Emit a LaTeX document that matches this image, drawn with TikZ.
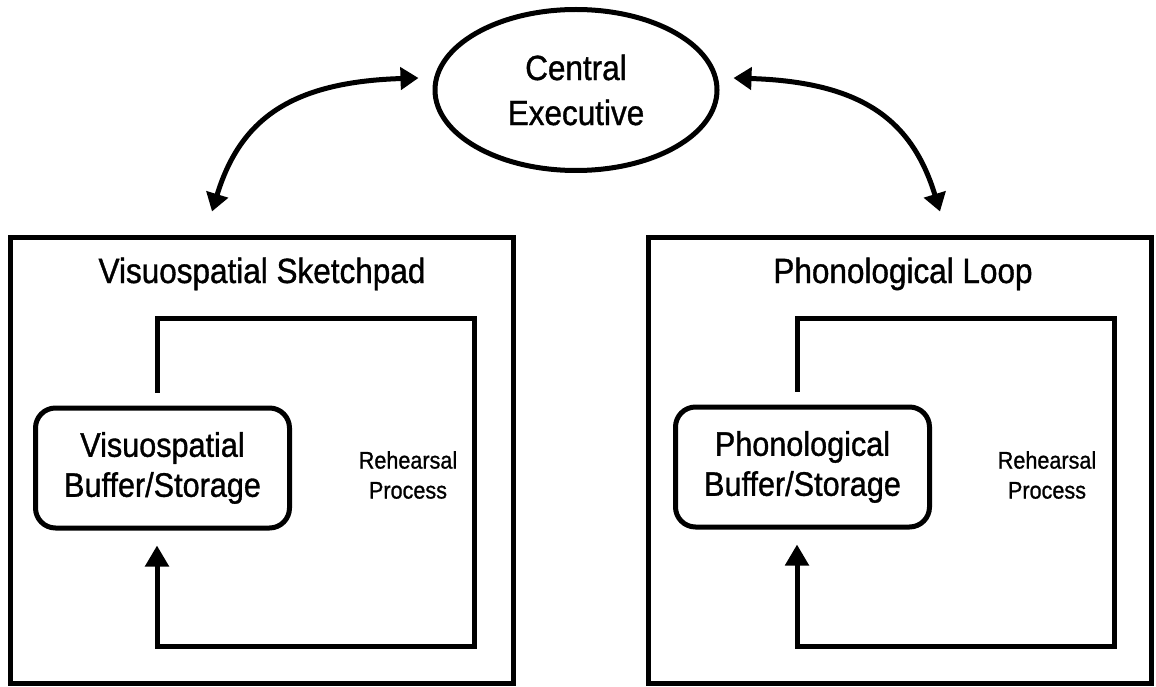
\documentclass[tikz,border=0pt]{standalone}
\usepackage{fontspec}
\setmainfont[FakeStretch=0.9,FakeBold=1]{Liberation Sans}
\usetikzlibrary{arrows.meta,positioning,shapes.geometric,calc}

\begin{document}
\begin{tikzpicture}[x=1pt,y=-1pt,
    thickline/.style={line width=5pt,line join=miter},
    module/.style={draw,thickline,minimum width=503pt,minimum height=446pt,inner sep=0pt},
    buffer/.style={draw,thickline,rounded corners=20pt,minimum width=254pt,minimum height=120pt,
        inner sep=0pt,align=center,font=\fontsize{34}{40}\selectfont},
    title/.style={anchor=base,font=\fontsize{35}{42}\selectfont},
    rehearse/.style={align=center,font=\fontsize{24}{30}\selectfont},
    bigtip/.style={-{Triangle[length=21pt,width=23pt]}},
    dualtip/.style={{Triangle[length=18pt,width=22pt]}-{Triangle[length=18pt,width=22pt]}}
]
    \useasboundingbox (0,0) rectangle (1156,687);

    % Central executive
    \node[draw,thickline,ellipse,minimum width=282pt,minimum height=161pt,inner sep=0pt,
          align=center,font=\fontsize{35}{45}\selectfont] (ce) at (576,90) {Central\\Executive};

    % Slave systems
    \node[module] (vss) at (261.5,460) {};
    \node[module] (pl) at (899.5,460) {};
    \node[title] (vsstitle) at (262,283) {Visuospatial Sketchpad};
    \node[title] (pltitle) at (903,283) {Phonological Loop};

    % Buffers
    \node[buffer] (vsbuf) at (162.5,468) {Visuospatial\\Buffer/Storage};
    \node[buffer] (plbuf) at (802.5,467) {Phonological\\Buffer/Storage};

    % Rehearsal loops
    \node[rehearse] (vsreh) at (408,475) {Rehearsal\\Process};
    \node[rehearse] (plreh) at (1047,475) {Rehearsal\\Process};

    \draw[thickline,bigtip] ($(vsbuf.north)+(-5.5,-13)$) -- (157,318) -- (474,318)
        -- (474,646) -- (157,646) -- ($(vsbuf.south)+(-5.5,15)$);
    \draw[thickline,bigtip] ($(plbuf.north)+(-5.5,-13)$) -- (797,318) -- (1114,318)
        -- (1114,646) -- (797,646) -- ($(plbuf.south)+(-5.5,15)$);

    % Links to the central executive
    \coordinate (vsend) at ($(vss.north)+(-49.5,-23)$);
    \coordinate (plend) at ($(pl.north)+(40.5,-23)$);
    \coordinate (cewest) at ($(ce.west)+(-14,-12)$);
    \coordinate (ceeast) at ($(ce.east)+(14,-12)$);
    \draw[thickline,dualtip] (vsend) .. controls (240,120) and (290,82) .. (cewest);
    \draw[thickline,dualtip] (plend) .. controls (912,120) and (862,82) .. (ceeast);
\end{tikzpicture}
\end{document}
